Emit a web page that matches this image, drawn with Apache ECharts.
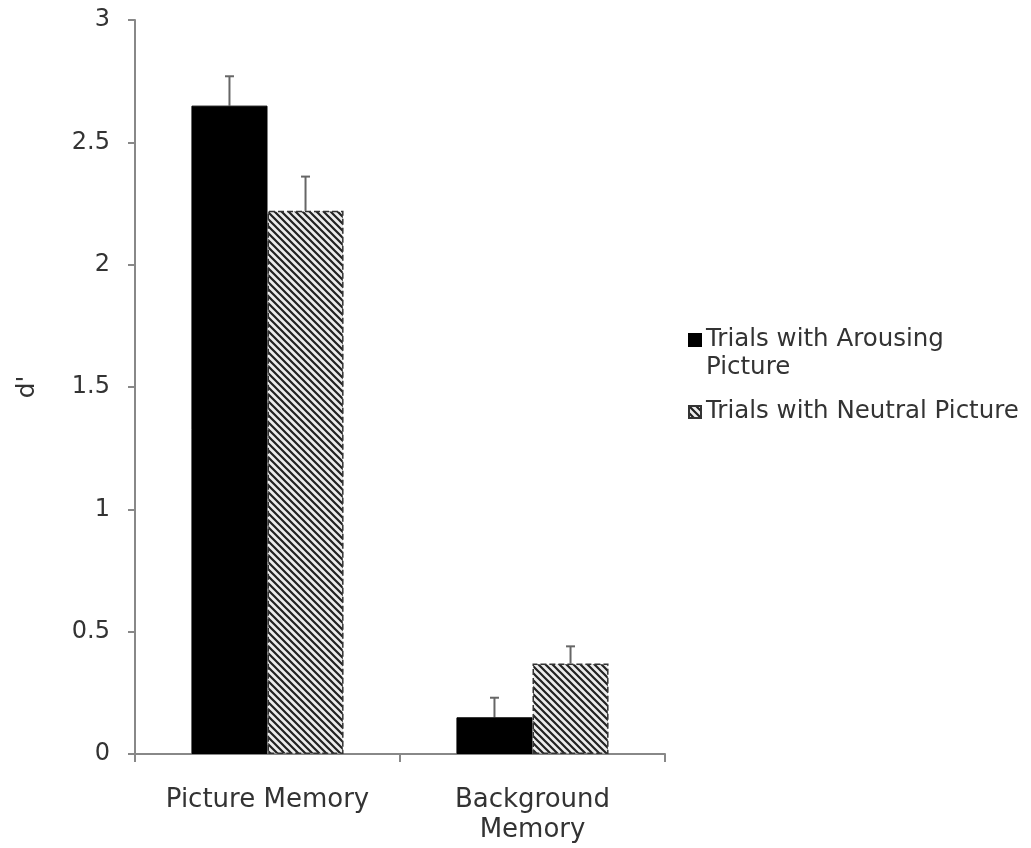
<!DOCTYPE html>
<html>
<head>
<meta charset="utf-8">
<script src="https://cdn.jsdelivr.net/npm/echarts@6/dist/echarts.min.js"></script>
<style>
  html, body { margin: 0; padding: 0; background: #fff; }
  #chart { width: 1031px; height: 848px; }
</style>
</head>
<body>
<div id="chart"></div>
<script>
// d' by memory type and picture condition
const categories = ['Picture Memory', 'Background\nMemory'];
const seriesNames = ['Trials with Arousing\nPicture', 'Trials with Neutral Picture'];
const arousingValues = [2.65, 0.15];
const neutralValues = [2.22, 0.37];
const arousingErrors = [0.12, 0.08];
const neutralErrors = [0.14, 0.07];
const yTicks = { min: 0, max: 3, interval: 0.5 };

const FONT = 'DejaVu Sans';
const TEXT = '#333';
const BAR_FRACTION = 0.287;

// Legend swatches: a 12x12 square inside a 12x40 box (the trailing move
// point only stretches the box), placed at the top for the two-line name
// and in the middle for the single-line one.
const ICON_TOP = 'path://M0,0H12V12H0Z M0,40';
const ICON_MID = 'path://M0,0 M0,14H12V26H0Z M0,40';

// Diagonal hatch fill for the neutral condition
function makeHatch() {
  const size = 7;
  const c = document.createElement('canvas');
  c.width = size; c.height = size;
  const g = c.getContext('2d');
  g.fillStyle = '#ececec';
  g.fillRect(0, 0, size, size);
  g.strokeStyle = '#222';
  g.lineWidth = 2.2;
  g.beginPath();
  for (let k = -1; k <= 1; k++) {
    g.moveTo(k * size - 1, -1);
    g.lineTo(k * size + size + 1, size + 1);
  }
  g.stroke();
  return c;
}
const hatch = { image: makeHatch(), repeat: 'repeat' };

// Upward-only error whiskers positioned over each bar
function errorSeries(values, errors, side) {
  return {
    type: 'custom',
    silent: true,
    z: 1,
    data: values.map((v, i) => [i, v, v + errors[i]]),
    renderItem: function (params, api) {
      const idx = api.value(0);
      const base = api.coord([idx, api.value(1)]);
      const top = api.coord([idx, api.value(2)]);
      const band = api.size([1, 0])[0];
      const x = base[0] + side * band * BAR_FRACTION / 2;
      const cap = 4.5;
      const style = { stroke: '#666', lineWidth: 2 };
      return {
        type: 'group',
        children: [
          { type: 'line', shape: { x1: x, y1: base[1], x2: x, y2: top[1] }, style: style },
          { type: 'line', shape: { x1: x - cap, y1: top[1], x2: x + cap, y2: top[1] }, style: style }
        ]
      };
    }
  };
}

const chart = echarts.init(document.getElementById('chart'), null, { renderer: 'canvas' });
chart.setOption({
  animation: false,
  backgroundColor: '#fff',
  textStyle: { fontFamily: FONT },
  grid: { left: 135, right: 366, top: 20, bottom: 94 },
  legend: {
    orient: 'vertical',
    left: 688,
    top: 326,
    padding: 0,
    itemWidth: 12,
    itemHeight: 40,
    itemGap: 9,
    data: [
      { name: seriesNames[0], icon: ICON_TOP },
      { name: seriesNames[1], icon: ICON_MID }
    ],
    textStyle: { fontFamily: FONT, fontSize: 24.5, color: TEXT, lineHeight: 28 }
  },
  xAxis: {
    type: 'category',
    data: categories,
    boundaryGap: true,
    axisLine: { lineStyle: { color: '#888', width: 2 } },
    axisTick: { show: true, length: 8, lineStyle: { color: '#888', width: 2 } },
    axisLabel: { fontFamily: FONT, fontSize: 26, color: TEXT, margin: 31, lineHeight: 30 }
  },
  yAxis: {
    type: 'value',
    min: yTicks.min,
    max: yTicks.max,
    interval: yTicks.interval,
    name: "d'",
    nameLocation: 'middle',
    nameGap: 95,
    nameTextStyle: { fontFamily: FONT, fontSize: 25, color: TEXT },
    splitLine: { show: false },
    axisLine: { show: true, lineStyle: { color: '#888', width: 2 } },
    axisTick: { show: true, length: 7, lineStyle: { color: '#888', width: 2 } },
    axisLabel: { fontFamily: FONT, fontSize: 24, color: TEXT, margin: 25 }
  },
  series: [
    {
      name: seriesNames[0],
      type: 'bar',
      data: arousingValues,
      barWidth: (BAR_FRACTION * 100) + '%',
      barGap: '0%',
      itemStyle: { color: '#000', borderColor: '#000', borderWidth: 1 }
    },
    {
      name: seriesNames[1],
      type: 'bar',
      data: neutralValues,
      barWidth: (BAR_FRACTION * 100) + '%',
      barGap: '0%',
      itemStyle: { color: hatch, borderColor: '#333', borderWidth: 1.5, borderType: 'dashed' }
    },
    errorSeries(arousingValues, arousingErrors, -1),
    errorSeries(neutralValues, neutralErrors, 1)
  ]
});
</script>
</body>
</html>
